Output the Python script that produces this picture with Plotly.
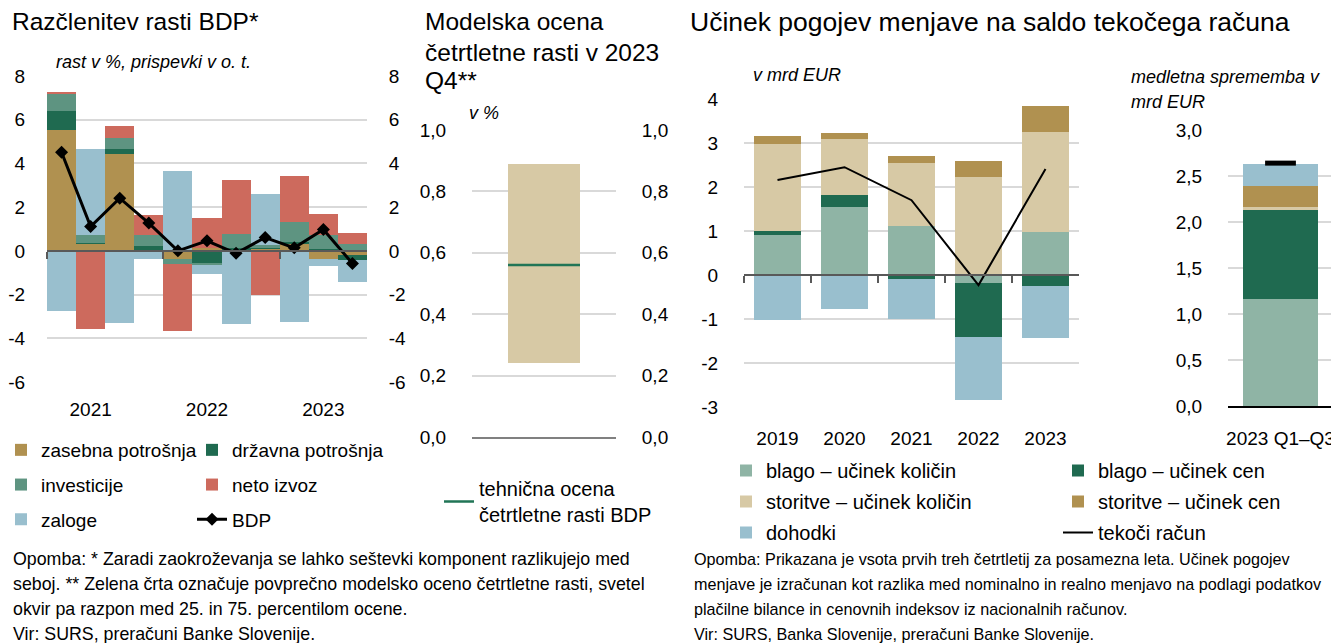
import plotly.graph_objects as go

# okno 1339x643, stran ima 8 px roba
OFF = 8
W, H = 1339, 643

# ---------- podatki: razčlenitev rasti BDP ----------
quarters = ["2021 Q1", "2021 Q2", "2021 Q3", "2021 Q4",
            "2022 Q1", "2022 Q2", "2022 Q3", "2022 Q4",
            "2023 Q1", "2023 Q2", "2023 Q3"]
q_pos = list(range(len(quarters)))
year_labels = ["2021", "2022", "2023"]
year_label_pos = [1, 5, 9]
year_bounds = [-0.5, 3.5, 7.5]

zasebna = [5.53, 0.35, 4.44, 0.03, -0.35, 0.15, 0.02, 0.10, 0.33, -0.36, -0.20]
drzavna = [0.88, 0.02, 0.24, 0.21, 0.00, -0.58, 0.10, 0.05, 0.08, 0.10, -0.20]
investicije = [0.78, 0.37, 0.50, 0.50, -0.23, -0.08, 0.66, 0.12, 0.92, 0.61, 0.30]
neto_izvoz = [0.08, -3.58, 0.53, 0.91, -3.09, 1.37, 2.46, -2.01, 2.10, 0.96, 0.52]
zaloge = [-2.73, 3.94, -3.31, -0.37, 3.67, -0.41, -3.34, 2.34, -3.26, -0.33, -1.02]
bdp = [4.51, 1.11, 2.41, 1.27, 0.00, 0.46, -0.11, 0.61, 0.14, 0.98, -0.58]

p1_ticks = [-6, -4, -2, 0, 2, 4, 6, 8]
p1_ticktext = ["-6", "-4", "-2", "0", "2", "4", "6", "8"]

# ---------- podatki: modelska ocena ----------
ocena_kat = [0.5]
ocena_p25 = 0.24
ocena_p75 = 0.89
ocena_povprecje = 0.56
p2_ticks = [0.0, 0.2, 0.4, 0.6, 0.8, 1.0]
p2_ticktext = ["0,0", "0,2", "0,4", "0,6", "0,8", "1,0"]

# ---------- podatki: pogoji menjave ----------
leta = ["2019", "2020", "2021", "2022", "2023"]
blago_kol = [0.92, 1.54, 1.12, -0.19, 0.97]
blago_cen = [0.09, 0.27, -0.08, -1.21, -0.26]
storitve_kol = [1.97, 1.27, 1.42, 2.23, 2.27]
storitve_cen = [0.19, 0.14, 0.16, 0.36, 0.60]
dohodki = [-1.02, -0.77, -0.92, -1.43, -1.18]
tekoci = [2.16, 2.45, 1.70, -0.23, 2.41]
p3_ticks = [-3, -2, -1, 0, 1, 2, 3, 4]
p3_ticktext = ["-3", "-2", "-1", "0", "1", "2", "3", "4"]

obdobje = ["2023 Q1–Q3"]
sp_blago_kol = [1.16]
sp_blago_cen = [0.97]
sp_storitve_kol = [0.03]
sp_storitve_cen = [0.23]
sp_dohodki = [0.24]
sp_tekoci = [2.64]
p4_ticks = [0.0, 0.5, 1.0, 1.5, 2.0, 2.5, 3.0]
p4_ticktext = ["0,0", "0,5", "1,0", "1,5", "2,0", "2,5", "3,0"]

# ---------- barve ----------
C_ZAS = "#B09150"
C_DRZ = "#1F6A50"
C_INV = "#5E9481"
C_IZV = "#CD6A5D"
C_ZAL = "#99BFCE"
C_BKOL = "#8FB4A5"
C_SKOL = "#D7C9A5"
GRID = "#D9D9D9"
FONT = "Liberation Sans, Arial, sans-serif"


# pretvorba iz pikslov zaslona v koordinate papirja
def px(x):
    return (x - OFF) / W


def py(y):
    return 1 - (y - OFF) / H


def xd(a, b):
    return [px(a), px(b)]


def yd(top, bottom):
    return [py(bottom), py(top)]


def zero_pos(dom, rng):
    return dom[0] + (0 - rng[0]) / (rng[1] - rng[0]) * (dom[1] - dom[0])


fig = go.Figure()

# panel 1
p1_series = [("zasebna potrošnja", zasebna, C_ZAS, "legend"),
             ("državna potrošnja", drzavna, C_DRZ, "legend2"),
             ("investicije", investicije, C_INV, "legend"),
             ("neto izvoz", neto_izvoz, C_IZV, "legend2"),
             ("zaloge", zaloge, C_ZAL, "legend")]
for name, vals, col, lg in p1_series:
    fig.add_trace(go.Bar(x=q_pos, y=vals, name=name, marker_color=col,
                         marker_line_width=0, width=1.0, legend=lg,
                         legendgroup=name, xaxis="x", yaxis="y"))
fig.add_trace(go.Scatter(x=q_pos, y=bdp, name="BDP", mode="lines+markers",
                         line=dict(color="black", width=3),
                         marker=dict(symbol="diamond", size=10, color="black"),
                         legend="legend2", legendgroup="BDP", xaxis="x", yaxis="y"))
fig.add_trace(go.Scatter(x=q_pos, y=bdp, mode="lines", opacity=0, showlegend=False,
                         hoverinfo="skip", xaxis="x2", yaxis="y2"))

# panel 2
w2 = 0.5
fig.add_trace(go.Bar(x=ocena_kat, y=[ocena_p75 - ocena_p25], base=[ocena_p25],
                     width=w2, marker_color=C_SKOL, marker_line_width=0,
                     showlegend=False, xaxis="x3", yaxis="y3"))
fig.add_trace(go.Scatter(x=[ocena_kat[0] - w2 / 2, ocena_kat[0] + w2 / 2],
                         y=[ocena_povprecje, ocena_povprecje], mode="lines",
                         line=dict(color="#217556", width=2.5),
                         name="tehnična ocena<br>četrtletne rasti BDP",
                         legend="legend3", xaxis="x3", yaxis="y3"))
fig.add_trace(go.Scatter(x=ocena_kat, y=[ocena_povprecje], mode="lines", opacity=0,
                         showlegend=False, hoverinfo="skip", xaxis="x3", yaxis="y4"))

# panel 3 in 4
p3_series = [("blago – učinek količin", blago_kol, sp_blago_kol, C_BKOL, "legend4"),
             ("blago – učinek cen", blago_cen, sp_blago_cen, C_DRZ, "legend5"),
             ("storitve – učinek količin", storitve_kol, sp_storitve_kol, C_SKOL, "legend4"),
             ("storitve – učinek cen", storitve_cen, sp_storitve_cen, C_ZAS, "legend5"),
             ("dohodki", dohodki, sp_dohodki, C_ZAL, "legend4")]
for name, vals, sp, col, lg in p3_series:
    fig.add_trace(go.Bar(x=leta, y=vals, name=name, marker_color=col,
                         marker_line_width=0, width=0.71, legend=lg,
                         legendgroup=name, xaxis="x5", yaxis="y5"))
    fig.add_trace(go.Bar(x=obdobje, y=sp, name=name, marker_color=col,
                         marker_line_width=0, width=0.72, showlegend=False,
                         xaxis="x7", yaxis="y7"))
fig.add_trace(go.Scatter(x=leta, y=tekoci, name="tekoči račun", mode="lines",
                         line=dict(color="black", width=2), legend="legend5",
                         legendgroup="tekoči račun", xaxis="x5", yaxis="y5"))
fig.add_trace(go.Scatter(x=leta, y=tekoci, mode="lines", opacity=0, showlegend=False,
                         hoverinfo="skip", xaxis="x6", yaxis="y5"))
fig.add_trace(go.Scatter(x=obdobje, y=sp_tekoci, mode="markers", showlegend=False,
                         marker=dict(symbol="line-ew", size=22, color="black",
                                     line=dict(color="black", width=5)),
                         xaxis="x7", yaxis="y7"))

# ---------- osi ----------
tickfont = dict(family=FONT, size=19, color="black")
dom1x, dom1y = xd(47, 367), yd(76, 382)
rng1 = [-6, 8]
dom2x, dom2y = xd(472, 616), yd(130, 437)
dom3x, dom3y = xd(744, 1079), yd(99, 407)
rng3 = [-3, 4]
dom4x, dom4y = xd(1228, 1333), yd(130, 406)

hid = dict(ticks="outside", tickcolor="rgba(0,0,0,0)", automargin=False)

fig.update_layout(
    xaxis=dict(domain=dom1x, range=[-0.5, 10.5], anchor="y", tickvals=year_label_pos,
               ticktext=year_labels, showgrid=False, zeroline=False, ticklen=10,
               tickfont=tickfont, **hid),
    yaxis=dict(domain=dom1y, range=rng1, anchor="x", tickvals=p1_ticks,
               ticktext=p1_ticktext, gridcolor=GRID, gridwidth=1.5, zeroline=False,
               ticklen=17, tickfont=tickfont, **hid),
    xaxis2=dict(domain=dom1x, range=[-0.5, 10.5], overlaying="x", anchor="free",
                position=zero_pos(dom1y, rng1), tickvals=year_bounds,
                showticklabels=False, ticks="outside", ticklen=7, tickcolor="#595959",
                tickwidth=1.5, showline=True, linecolor="#595959", linewidth=1.5,
                showgrid=False, zeroline=False, layer="above traces", automargin=False),
    yaxis2=dict(domain=dom1y, range=rng1, overlaying="y", side="right", anchor="x",
                tickvals=p1_ticks, ticktext=p1_ticktext, showgrid=False, zeroline=False,
                ticklen=17, tickfont=tickfont, **hid),
    xaxis3=dict(domain=dom2x, range=[0, 1], anchor="y3", showticklabels=False,
                showgrid=False, zeroline=False, showline=True, linecolor="#808080",
                linewidth=1.5, automargin=False),
    yaxis3=dict(domain=dom2y, range=[0, 1.0], anchor="x3", tickvals=p2_ticks,
                ticktext=p2_ticktext, gridcolor=GRID, gridwidth=1.5, zeroline=False,
                ticklen=21, tickfont=tickfont, **hid),
    yaxis4=dict(domain=dom2y, range=[0, 1.0], overlaying="y3", side="right", anchor="x3",
                tickvals=p2_ticks, ticktext=p2_ticktext, showgrid=False, zeroline=False,
                ticklen=21, tickfont=tickfont, **hid),
    xaxis5=dict(domain=dom3x, anchor="y5", type="category", showgrid=False,
                zeroline=False, ticklen=14, tickfont=tickfont, **hid),
    yaxis5=dict(domain=dom3y, range=rng3, anchor="x5", tickvals=p3_ticks,
                ticktext=p3_ticktext, gridcolor=GRID, gridwidth=1.5, zeroline=False,
                ticklen=21, tickfont=tickfont, **hid),
    xaxis6=dict(domain=dom3x, matches="x5", overlaying="x5", anchor="free",
                type="category", position=zero_pos(dom3y, rng3),
                showticklabels=False, ticks="outside", tickson="boundaries", ticklen=7,
                tickcolor="#595959", tickwidth=1.5, showline=True, linecolor="#595959",
                linewidth=1.5, showgrid=False, zeroline=False, layer="above traces",
                automargin=False),
    xaxis7=dict(domain=dom4x, anchor="y7", type="category", showgrid=False,
                zeroline=False, showline=True, linecolor="black", linewidth=1.5,
                ticklen=14, tickfont=tickfont, **hid),
    yaxis7=dict(domain=dom4y, range=[0, 3.0], anchor="x7", tickvals=p4_ticks,
                ticktext=p4_ticktext, gridcolor=GRID, gridwidth=1.5, zeroline=False,
                ticklen=21, tickfont=tickfont, **hid),
)

legfont = dict(family=FONT, size=19, color="black")
legfont20 = dict(family=FONT, size=20, color="black")
leg_common = dict(xanchor="left", yanchor="top", bgcolor="rgba(0,0,0,0)",
                  font=legfont, itemwidth=30, tracegroupgap=7, orientation="v")
leg_right = {**leg_common, "font": legfont20, "tracegroupgap": 2}
fig.update_layout(
    legend=dict(x=px(1), y=py(431), **leg_common),
    legend2=dict(x=px(192), y=py(431), **leg_common),
    legend3=dict(x=px(439), y=py(469), **{**leg_common, "font": legfont20}),
    legend4=dict(x=px(726), y=py(451), **leg_right),
    legend5=dict(x=px(1058), y=py(451), **leg_right),
)

# ---------- besedila ----------
def note(text, x, y, size, italic=False):
    fig.add_annotation(text=text, x=px(x), y=py(y), xref="paper", yref="paper",
                       xanchor="left", yanchor="middle", showarrow=False,
                       font=dict(family=FONT, size=size, color="black",
                                 style="italic" if italic else "normal"))


note("Razčlenitev rasti BDP*", 10, 22, 24.5)
note("Modelska ocena", 423, 22, 24.5)
note("četrtletne rasti v 2023", 423, 52, 24.5)
note("Q4**", 423, 80, 24.5)
note("Učinek pogojev menjave na saldo tekočega računa", 688, 22, 26.5)

note("rast v %, prispevki v o. t.", 54, 62, 18, italic=True)
note("v %", 467, 113, 18, italic=True)
note("v mrd EUR", 751, 75, 18, italic=True)
note("medletna sprememba v", 1129, 77, 18, italic=True)
note("mrd EUR", 1129, 102, 18, italic=True)

left_notes = ["Opomba: * Zaradi zaokroževanja se lahko seštevki komponent razlikujejo med",
              "seboj. ** Zelena črta označuje povprečno modelsko oceno četrtletne rasti, svetel",
              "okvir pa razpon med 25. in 75. percentilom ocene.",
              "Vir: SURS, preračuni Banke Slovenije."]
right_notes = ["Opomba: Prikazana je vsota prvih treh četrtletij za posamezna leta. Učinek pogojev",
               "menjave je izračunan kot razlika med nominalno in realno menjavo na podlagi podatkov",
               "plačilne bilance in cenovnih indeksov iz nacionalnih računov.",
               "Vir: SURS, Banka Slovenije, preračuni Banke Slovenije."]
for i, t in enumerate(left_notes):
    note(t, 11, 559 + i * 25, 17.8)
for i, t in enumerate(right_notes):
    note(t, 692, 559 + i * 25, 16.2)

fig.update_layout(width=W, height=H, margin=dict(l=0, r=0, t=0, b=0, autoexpand=False),
                  barmode="relative", bargap=0, plot_bgcolor="white",
                  paper_bgcolor="white", font=dict(family=FONT, color="black"))

fig.write_html("out.html")
